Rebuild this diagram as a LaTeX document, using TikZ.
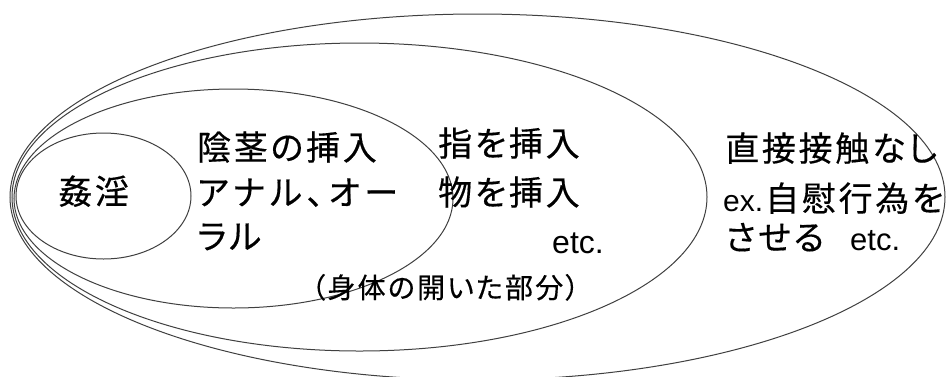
\documentclass[tikz,border=0pt]{standalone}
\usepackage{fontspec}
\setmainfont{Liberation Sans}
\newfontfamily\jp[LetterSpace=8, FakeBold=0.4, RawFeature=+palt]{Noto Sans CJK JP}
\newfontfamily\jpw[LetterSpace=14, FakeBold=0.4, RawFeature=+palt]{Noto Sans CJK JP}
\begin{document}
\begin{tikzpicture}[x=1pt,y=-1pt,
  ring/.style={draw=black!75, line width=1pt},
  big/.style={anchor=west, inner sep=0pt, text height=30pt, text depth=4pt,
    font=\jp\fontsize{34}{40}\selectfont},
  wide/.style={big, font=\jpw\fontsize{34}{40}\selectfont},
  small/.style={anchor=west, inner sep=0pt, text height=25pt, text depth=3pt,
    font=\jp\fontsize{28}{34}\selectfont},
  lat/.style={font=\rmfamily\fontsize{32}{38}\selectfont}]
\useasboundingbox (0,0) rectangle (947,376);
\clip (0,0) rectangle (947,376);
\fill[white] (0,0) rectangle (947,376);
% rings
\draw[ring] (103.5,196) ellipse [x radius=87.5, y radius=63];
\draw[ring] (233.5,198.5) ellipse [x radius=219.5, y radius=109.5];
\draw[ring] (359.5,197) ellipse [x radius=347.5, y radius=154];
\draw[ring] (477.5,197) ellipse [x radius=467.5, y radius=183];
% texts
\node[big] (kanin) at (58,191) {姦淫};
\node[big] (t1) at (197,147) {陰茎の挿入};
\node[wide] (t2) at (197,192) {アナル、オー};
\node[big] (t3) at (197,236) {ラル};
\node[small] (t4) at (311,287) {（身体の開いた部分）};
\node[big] (u1) at (438,143) {指を挿入};
\node[big] (u2) at (438,192) {物を挿入};
\node[big, lat] (u3) at (552,240) {etc.};
\node[big] (v1) at (725,148) {直接接触なし};
\node[big] (v2) at (723,198) {{\rmfamily\fontsize{30}{36}\selectfont ex.}\hspace{2pt}自慰行為を};
\node[big] (v3) at (725,237) {させる\hspace{26pt}{\rmfamily\fontsize{31}{36}\selectfont etc.}};
\end{tikzpicture}
\end{document}
